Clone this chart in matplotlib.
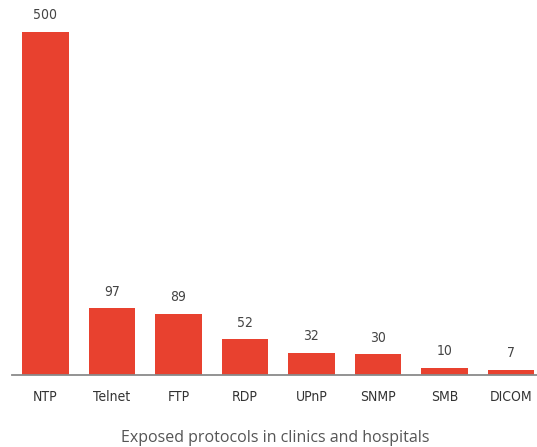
import matplotlib
matplotlib.use("Agg")
import matplotlib.pyplot as plt
from matplotlib import font_manager

protocols = ["NTP", "Telnet", "FTP", "RDP", "UPnP", "SNMP", "SMB", "DICOM"]
exposed = [500, 97, 89, 52, 32, 30, 10, 7]
title = "Exposed protocols in clinics and hospitals"

names = {f.name for f in font_manager.fontManager.ttflist}
narrow = "Liberation Sans Narrow" if "Liberation Sans Narrow" in names else "DejaVu Sans"
label_font = dict(family=narrow, stretch="condensed")

fig = plt.figure(figsize=(5.37, 4.47), dpi=100)
ax = fig.add_axes([12 / 537, 1 - 375 / 447, 525 / 537, 343 / 447])

x = list(range(len(protocols)))
ax.bar(x, exposed, width=0.7, color="#E8412F", zorder=2)
ax.set_xlim(-0.5, 7.39)
ax.set_ylim(0, 500)

for xi, v in zip(x, exposed):
    ax.annotate(str(v), (xi, v), xytext=(0, 7), textcoords="offset points",
                ha="center", va="bottom", fontsize=10, color="#444444",
                **label_font)

for s in ["top", "right", "left"]:
    ax.spines[s].set_visible(False)
ax.spines["bottom"].set_color("#8a8a8a")
ax.spines["bottom"].set_linewidth(1.3)
ax.set_yticks([])
ax.set_xticks(x)
ax.set_xticklabels(protocols, fontsize=10, color="#333333", **label_font)
ax.tick_params(axis="x", length=0, pad=11)

fig.text(0.512, 1 - 438 / 447, title, ha="center", va="center",
         fontsize=11.5, color="#555555", family="Open Sans")

fig.savefig("out.png", dpi=100)
